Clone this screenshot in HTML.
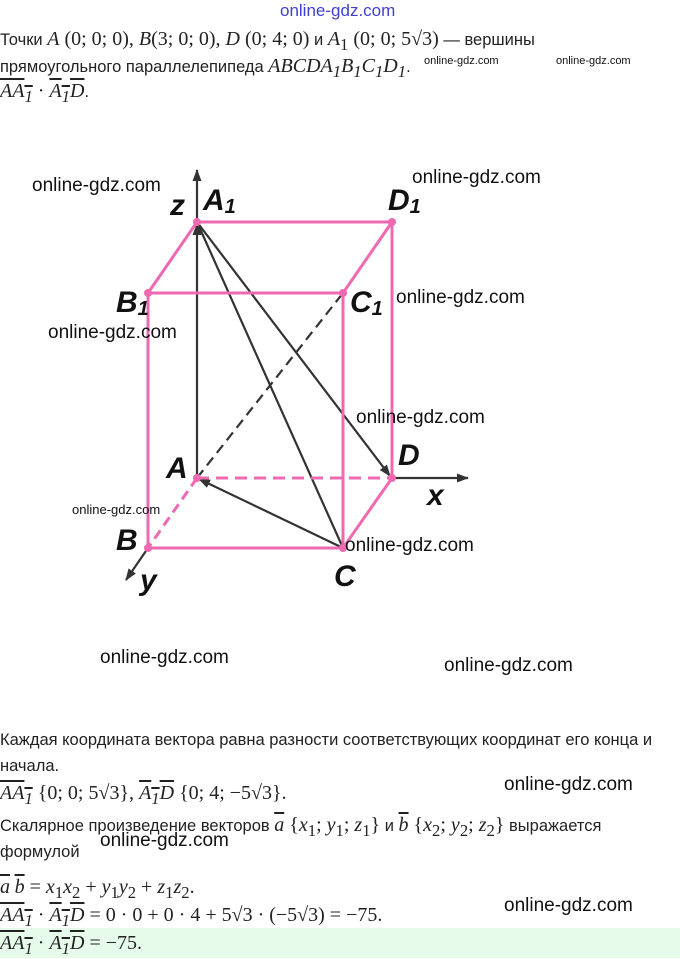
<!DOCTYPE html>
<html><head><meta charset="utf-8"><style>
body{margin:0;width:680px;height:958px;background:#fff;position:relative;overflow:hidden;font-family:"Liberation Sans",sans-serif;color:#222}
.t{position:absolute;left:0;font-size:16.5px;white-space:nowrap}
.m{font-family:"Liberation Serif",serif;font-style:italic;font-size:20px}
.n{font-family:"Liberation Serif",serif;font-size:20px}
.w{position:absolute;font-family:"Liberation Sans",sans-serif;color:#111;white-space:nowrap}
.ov{text-decoration:overline}
</style></head><body>
<div class="w" style="left:280px;top:1px;font-size:17px;color:#4040d0">online-gdz.com</div>
<div class="t" style="top:28px">Точки <span class="m">A</span><span class="n"> (0;  0;  0), </span><span class="m">B</span><span class="n">(3;  0;  0), </span><span class="m">D</span><span class="n"> (0;  4;  0)</span> и <span class="m">A</span><span class="n"><sub>1</sub> (0;  0;  5√3)</span> — вершины</div>
<div class="t" style="top:55px">прямоугольного параллелепипеда <span class="m">ABCDA<sub>1</sub>B<sub>1</sub>C<sub>1</sub>D<sub>1</sub></span>.</div>
<div class="w" style="left:424px;top:55px;font-size:11px">online-gdz.com</div>
<div class="w" style="left:556px;top:55px;font-size:11px">online-gdz.com</div>
<div class="t" style="top:80px"><span class="m ov">AA<sub>1</sub></span><span class="n"> · </span><span class="m ov">A<sub>1</sub>D</span>.</div>

<svg width="680" height="720" style="position:absolute;left:0;top:0">
<defs><marker id="ar" markerWidth="12" markerHeight="9" refX="11" refY="4.5" orient="auto" markerUnits="userSpaceOnUse"><path d="M0,0L12,4.5L0,9z" fill="#333"/></marker></defs>
<g stroke="#333" stroke-width="2.2" fill="none">
<line x1="197" y1="230" x2="197" y2="170" marker-end="url(#ar)"/>
<line x1="197" y1="478" x2="197" y2="224" marker-end="url(#ar)"/>
<line x1="392" y1="478" x2="468" y2="478" marker-end="url(#ar)"/>
<line x1="148" y1="548" x2="126" y2="580" marker-end="url(#ar)"/>
<line x1="197" y1="478" x2="343" y2="293" stroke-dasharray="10,6"/>
<line x1="197" y1="222" x2="343" y2="548"/>
<line x1="197" y1="222" x2="390" y2="476" marker-end="url(#ar)"/>
<line x1="343" y1="548" x2="199" y2="479" marker-end="url(#ar)"/>
</g>
<g stroke="#ee69b0" stroke-width="3" fill="none">
<polyline points="148,293 197,222 392,222 343,293 148,293 148,548 343,548 392,478 392,222"/>
<line x1="343" y1="293" x2="343" y2="548"/>
<line x1="197" y1="478" x2="392" y2="478" stroke-dasharray="12,7"/>
<line x1="197" y1="478" x2="148" y2="548" stroke-dasharray="10,6"/>
</g>
<g fill="#ee69b0"><circle cx="197" cy="222" r="4"/><circle cx="392" cy="222" r="4"/><circle cx="148" cy="293" r="4"/><circle cx="343" cy="293" r="4"/><circle cx="197" cy="478" r="4"/><circle cx="392" cy="478" r="4"/><circle cx="148" cy="548" r="4"/><circle cx="343" cy="548" r="4"/></g>
<g font-family="Liberation Sans,sans-serif" font-style="italic" font-weight="bold" font-size="30" fill="#111">
<text x="170" y="215">z</text><text x="203" y="210">A<tspan font-size="20" dy="3">1</tspan></text>
<text x="388" y="210">D<tspan font-size="20" dy="3">1</tspan></text>
<text x="116" y="312">B<tspan font-size="20" dy="3">1</tspan></text>
<text x="350" y="312">C<tspan font-size="20" dy="3">1</tspan></text>
<text x="166" y="478">A</text><text x="398" y="465">D</text>
<text x="427" y="505">x</text><text x="116" y="550">B</text>
<text x="140" y="590">y</text><text x="334" y="586">C</text>
</g>
</svg>
<div class="w" style="left:32px;top:175px;font-size:19px">online-gdz.com</div>
<div class="w" style="left:412px;top:167px;font-size:19px">online-gdz.com</div>
<div class="w" style="left:396px;top:287px;font-size:19px">online-gdz.com</div>
<div class="w" style="left:48px;top:322px;font-size:19px">online-gdz.com</div>
<div class="w" style="left:356px;top:407px;font-size:19px">online-gdz.com</div>
<div class="w" style="left:72px;top:502px;font-size:13px">online-gdz.com</div>
<div class="w" style="left:345px;top:535px;font-size:19px">online-gdz.com</div>
<div class="w" style="left:100px;top:647px;font-size:19px">online-gdz.com</div>
<div class="w" style="left:444px;top:655px;font-size:19px">online-gdz.com</div>

<div class="t" style="top:731px">Каждая координата вектора равна разности соответствующих координат его конца и</div>
<div class="t" style="top:757px">начала.</div>
<div class="t" style="top:782px"><span class="m ov">AA<sub>1</sub></span><span class="n"> {0;  0;  5√3}, </span><span class="m ov">A<sub>1</sub>D</span><span class="n"> {0;  4;  −5√3}.</span></div>
<div class="w" style="left:504px;top:774px;font-size:19px">online-gdz.com</div>
<div class="t" style="top:814px">Скалярное произведение векторов <span class="m ov">a</span><span class="n"> {<i>x</i><sub>1</sub>;  <i>y</i><sub>1</sub>;  <i>z</i><sub>1</sub>}</span> и <span class="m ov">b</span><span class="n"> {<i>x</i><sub>2</sub>;  <i>y</i><sub>2</sub>;  <i>z</i><sub>2</sub>}</span> выражается</div>
<div class="t" style="top:843px">формулой</div>
<div class="w" style="left:100px;top:830px;font-size:19px">online-gdz.com</div>
<div class="t" style="top:876px"><span class="m ov">a</span> <span class="m ov">b</span><span class="n"> = <i>x</i><sub>1</sub><i>x</i><sub>2</sub> + <i>y</i><sub>1</sub><i>y</i><sub>2</sub> + <i>z</i><sub>1</sub><i>z</i><sub>2</sub>.</span></div>
<div class="t" style="top:904px"><span class="m ov">AA<sub>1</sub></span><span class="n"> · </span><span class="m ov">A<sub>1</sub>D</span><span class="n"> = 0 · 0 + 0 · 4 + 5√3 · (−5√3) = −75.</span></div>
<div class="w" style="left:504px;top:895px;font-size:19px">online-gdz.com</div>
<div style="position:absolute;left:0;top:928px;width:680px;height:30px;background:#e6fbe9"></div>
<div class="t" style="top:932px"><span class="m ov">AA<sub>1</sub></span><span class="n"> · </span><span class="m ov">A<sub>1</sub>D</span><span class="n"> = −75.</span></div>
</body></html>
